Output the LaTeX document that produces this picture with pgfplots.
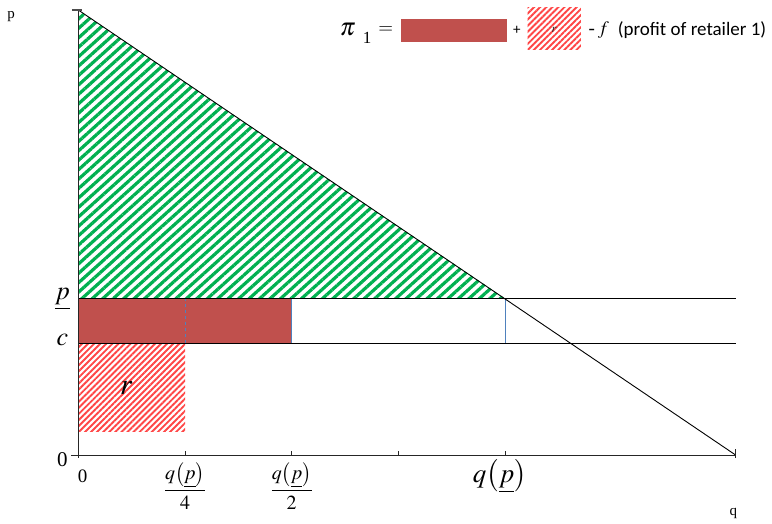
\documentclass[border=0pt]{standalone}
\usepackage{mathptmx}
\usepackage{fontspec}
\setmainfont{Liberation Serif}
\newfontfamily\carlito{Carlito}
\usepackage{pgfplots}
\pgfplotsset{compat=1.18}
\usetikzlibrary{patterns.meta}
\definecolor{hgreen}{RGB}{0,176,80}
\definecolor{rfill}{RGB}{192,80,77}
\definecolor{rhatch}{RGB}{255,70,70}
\definecolor{lblue}{RGB}{79,129,189}
\begin{document}
\begin{tikzpicture}
\useasboundingbox (-78.3pt,-68pt) rectangle (693.7pt,455pt);
\begin{axis}[anchor=origin, at={(0pt,0pt)}, x=106.7pt, y=100pt,
  xmin=0, xmax=6.16, ymin=0, ymax=4.45, hide axis, clip=false]
% green hatched triangle (consumer surplus)
\addplot[draw=none, pattern={Lines[angle=42,distance=7pt,line width=3.2pt]}, pattern color=hgreen]
  coordinates {(0,1.565) (0,4.45) (4,1.565)} -- cycle;
% red filled rectangle
\addplot[draw=none, fill=rfill] coordinates {(0,1.117) (2,1.117) (2,1.565) (0,1.565)} -- cycle;
% red hatched rectangle r
\addplot[draw=none, pattern={Lines[angle=45,distance=4.3pt,line width=1.9pt]}, pattern color=rhatch]
  coordinates {(0,0.233) (1,0.233) (1,1.117) (0,1.117)} -- cycle;
% blue verticals
\addplot[lblue, line width=0.7pt, dashed] coordinates {(1,1.117) (1,1.565)};
\addplot[lblue, line width=0.7pt] coordinates {(2,1.117) (2,1.565)};
\addplot[lblue, line width=0.8pt] coordinates {(4,1.117) (4,1.565)};
% price lines
\addplot[black, line width=1.1pt] coordinates {(0,1.565) (6.16,1.565)};
\addplot[black, line width=1.1pt] coordinates {(0,1.117) (6.16,1.117)};
% demand
\addplot[black, line width=0.9pt] coordinates {(0,4.45) (6.16,0)};
% axes
\addplot[black!85, line width=0.8pt] coordinates {(0,0) (0,4.45)};
\addplot[black!70, line width=1.2pt] coordinates {(-0.06,4.45) (0.03,4.45)};
\addplot[black!85, line width=0.8pt] coordinates {(-0.07,0) (6.16,0)};
\addplot[black!85, line width=0.8pt] coordinates {(0,0) (0,-0.03)};
\addplot[black!85, line width=0.8pt] coordinates {(1,0) (1,0.04)};
\addplot[black!85, line width=0.8pt] coordinates {(2,0) (2,0.04)};
\addplot[black!85, line width=0.8pt] coordinates {(3,0) (3,0.04)};
\addplot[black!85, line width=0.8pt] coordinates {(4,0) (4,0.04)};
\addplot[black!85, line width=0.8pt] coordinates {(6.16,-0.03) (6.16,0.06)};
% legend shapes
\addplot[draw=none, fill=rfill] coordinates {(3.02,4.133) (4.02,4.133) (4.02,4.357) (3.02,4.357)} -- cycle;
\addplot[draw=none, pattern={Lines[angle=45,distance=4.3pt,line width=1.9pt]}, pattern color=rhatch]
  coordinates {(4.21,4.05) (4.71,4.05) (4.71,4.47) (4.21,4.47)} -- cycle;
% labels
\node[font=\fontsize{25}{30}\selectfont, anchor=west, inner sep=0pt] at (2.45,4.255) {$\pi$};
\node[font=\fontsize{17}{20}\selectfont, anchor=west, inner sep=0pt] at (2.665,4.17) {1};
\node[font=\fontsize{19}{22}\selectfont, anchor=west, inner sep=0pt] at (2.81,4.245) {$=$};
\node[font=\fontsize{15}{18}\selectfont\carlito] at (4.11,4.245) {+};
\node[font=\fontsize{12}{14}\selectfont, text=black!85, inner sep=0pt] at (4.46,4.25) {$r$};
\node[font=\fontsize{19}{22}\selectfont, anchor=west, inner sep=0pt] at (4.78,4.245) {-\,$f$};
\node[font=\fontsize{19}{22}\selectfont\carlito, anchor=west, inner sep=0pt] at (5.055,4.245) {(profit of retailer 1)};
\node[font=\fontsize{15}{18}\selectfont] at (-0.63,4.38) {p};
\node[font=\fontsize{15}{18}\selectfont] at (6.14,-0.58) {q};
\node[font=\fontsize{26}{30}\selectfont] at (-0.15,1.555) {$\underline{p}$};
\node[font=\fontsize{26}{30}\selectfont] at (-0.15,1.15) {$c$};
\node[font=\fontsize{21}{24}\selectfont] at (-0.15,-0.045) {0};
\node[font=\fontsize{19}{22}\selectfont] at (0.04,-0.215) {0};
\node[font=\fontsize{20}{24}\selectfont] at (1,-0.31) {$\displaystyle\frac{q\bigl(\underline{p}\bigr)}{4}$};
\node[font=\fontsize{20}{24}\selectfont] at (2,-0.31) {$\displaystyle\frac{q\bigl(\underline{p}\bigr)}{2}$};
\node[font=\fontsize{27}{32}\selectfont] at (3.95,-0.21) {$q\bigl(\underline{p}\bigr)$};
\node[font=\fontsize{30}{34}\selectfont] at (0.45,0.67) {$r$};
\end{axis}
\end{tikzpicture}
\end{document}
